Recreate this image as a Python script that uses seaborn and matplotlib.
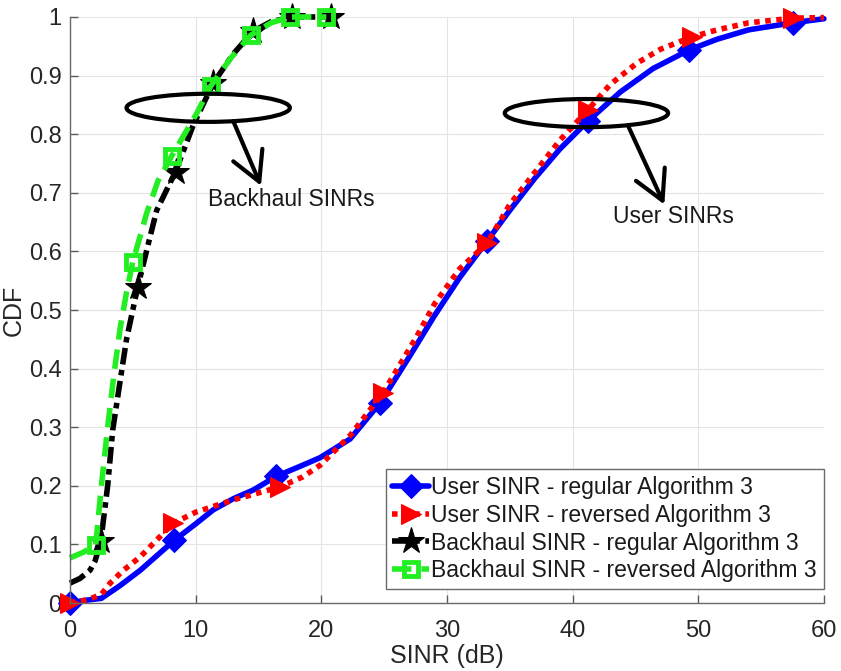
"""
CDF of user / backhaul SINR, regular vs reversed Algorithm 3
"""
import numpy as np
import pandas as pd
import matplotlib
matplotlib.use("Agg")
import matplotlib.pyplot as plt
import seaborn as sns
from matplotlib.patches import Ellipse
from matplotlib.ticker import FuncFormatter, MultipleLocator

# --- данные ---
user_reg_x = [0, 1, 2.5, 4, 5.6, 8.3, 10, 11.4, 13, 14.6, 16.4, 18.5, 19.9, 22.3,
              24.7, 27, 29, 31, 33.2, 35, 37, 39, 41.2, 43.8, 46.4, 49.3, 51.5,
              54, 57.5, 60]
user_reg_y = [0, 0.004, 0.008, 0.03, 0.056, 0.107, 0.135, 0.159, 0.178, 0.193,
              0.216, 0.235, 0.248, 0.28, 0.342, 0.42, 0.49, 0.555, 0.618, 0.67,
              0.725, 0.775, 0.822, 0.872, 0.912, 0.944, 0.962, 0.978, 0.99, 0.997]
user_reg_marks = [0, 5, 10, 14, 18, 22, 25, 28]

user_rev_x = [0, 1.5, 2.5, 3.2, 4.2, 5.6, 8.2, 10, 13, 16.7, 18.5, 19.9, 22.3,
              24.9, 27.6, 29, 31, 33.2, 35, 37, 39, 41.2, 43, 45.1, 47, 49.5,
              51.5, 54, 57.5, 60]
user_rev_y = [0, 0.006, 0.015, 0.034, 0.055, 0.079, 0.136, 0.155, 0.176, 0.198,
              0.215, 0.235, 0.286, 0.358, 0.455, 0.51, 0.57, 0.614, 0.68, 0.735,
              0.79, 0.841, 0.885, 0.921, 0.945, 0.966, 0.978, 0.99, 0.998, 0.999]
user_rev_marks = [0, 6, 9, 13, 17, 21, 25, 28]

bh_reg_x = [0, 0.8, 1.6, 2.0, 2.45, 3.0, 3.4, 4.0, 4.5, 5.4, 6.2, 6.9, 8.4, 9.8,
            11.4, 13, 14.6, 16, 17.7, 19.2, 20.8]
bh_reg_y = [0.034, 0.042, 0.056, 0.072, 0.105, 0.2, 0.295, 0.38, 0.45, 0.54,
            0.61, 0.67, 0.736, 0.815, 0.887, 0.937, 0.976, 0.992, 1.0, 1.0, 1.0]
bh_reg_marks = [4, 9, 12, 14, 16, 18, 20]

bh_rev_x = [0, 1, 2.05, 2.5, 3.0, 3.5, 4.0, 4.5, 5.0, 6.1, 7, 8.1, 10.1, 11.2,
            12.8, 14.4, 16, 17.5, 19, 20.4]
bh_rev_y = [0.077, 0.086, 0.099, 0.2, 0.3, 0.39, 0.47, 0.53, 0.582, 0.665, 0.72,
            0.763, 0.836, 0.882, 0.93, 0.969, 0.99, 1.0, 1.0, 1.0]
bh_rev_marks = [2, 8, 11, 13, 15, 17, 19]

labels = ['User SINR - regular Algorithm 3',
          'User SINR - reversed Algorithm 3',
          'Backhaul SINR - regular Algorithm 3',
          'Backhaul SINR - reversed Algorithm 3']

sns.set_theme(style="whitegrid")
plt.rcParams['font.family'] = ['Liberation Sans', 'DejaVu Sans']

fig = plt.figure(figsize=(8.41, 6.71), dpi=100)
ax = fig.add_axes([0.0832, 0.1013, 0.8965, 0.8734])

green = '#22ee22'
styles = [
    dict(color='#0000ff', linestyle='-', lw=4, marker='D', ms=12,
         mfc='#0000ff', mec='#0000ff'),
    dict(color='#ff0000', linestyle=(0, (1, 1)), lw=4, marker='>', ms=15,
         mfc='#ff0000', mec='#ff0000'),
    dict(color='black', linestyle=(0, (3, 1, 1, 1)), lw=4, marker='*', ms=20,
         mfc='black', mec='black'),
    dict(color=green, linestyle=(0, (3.5, 1.8)), lw=4, marker='s', ms=10,
         mfc='none', mec=green, mew=3.5),
]
series = [(user_reg_x, user_reg_y, user_reg_marks),
          (user_rev_x, user_rev_y, user_rev_marks),
          (bh_reg_x, bh_reg_y, bh_reg_marks),
          (bh_rev_x, bh_rev_y, bh_rev_marks)]

for (xs, ys, marks), lab, st in zip(series, labels, styles):
    df = pd.DataFrame({'x': xs, 'y': ys})
    sns.lineplot(data=df, x='x', y='y', ax=ax, label=lab, errorbar=None,
                 markevery=marks, clip_on=False, **st)

# эллипсы и стрелки
for cx, cy in [(11.0, 0.845), (41.1, 0.836)]:
    ax.add_patch(Ellipse((cx, cy), 13, 0.048, fill=False, ec='black', lw=3,
                         zorder=5))
arrow = dict(arrowstyle='->, head_length=0.55, head_width=0.3', color='black',
             lw=3, mutation_scale=38, shrinkA=0, shrinkB=0)
ax.annotate('', xy=(15.2, 0.712), xytext=(13.0, 0.822), arrowprops=arrow)
ax.annotate('', xy=(47.3, 0.68), xytext=(44.4, 0.815), arrowprops=arrow)
ax.text(11.0, 0.689, 'Backhaul SINRs', fontsize=16.5, va='center', ha='left',
        color='#1a1a1a')
ax.text(43.2, 0.659, 'User SINRs', fontsize=16.5, va='center', ha='left',
        color='#1a1a1a')

ax.set_xlim(0, 60)
ax.set_ylim(0, 1)
ax.xaxis.set_major_locator(MultipleLocator(10))
ax.yaxis.set_major_locator(MultipleLocator(0.1))
ax.yaxis.set_major_formatter(FuncFormatter(lambda v, p: f'{v:g}'))
ax.set_xlabel('SINR (dB)', fontsize=18, color='#262626', labelpad=2)
ax.set_ylabel('CDF', fontsize=18, color='#262626', labelpad=2)
ax.tick_params(axis='both', direction='in', length=6, width=1,
               colors='#5a5a5a', labelsize=17, labelcolor='#262626',
               bottom=True, left=True)
ax.tick_params(axis='x', pad=12)
ax.tick_params(axis='y', pad=6)
ax.grid(True, color='#e4e4e4', lw=0.8)
ax.set_facecolor('white')
for side in ['top', 'right']:
    ax.spines[side].set_visible(False)
for side in ['left', 'bottom']:
    ax.spines[side].set_color('#6a6a6a')
    ax.spines[side].set_linewidth(1)

leg = ax.legend(loc='lower right', bbox_to_anchor=(1.0, 0.024),
                borderaxespad=0, fontsize=16.5, handlelength=1.6,
                handletextpad=0.1, labelspacing=0.2, borderpad=0.3,
                fancybox=False, framealpha=1, edgecolor='#6a6a6a')
leg.get_frame().set_linewidth(1)
for t in leg.get_texts():
    t.set_color('#1a1a1a')

plt.savefig('out.png', dpi=100)
